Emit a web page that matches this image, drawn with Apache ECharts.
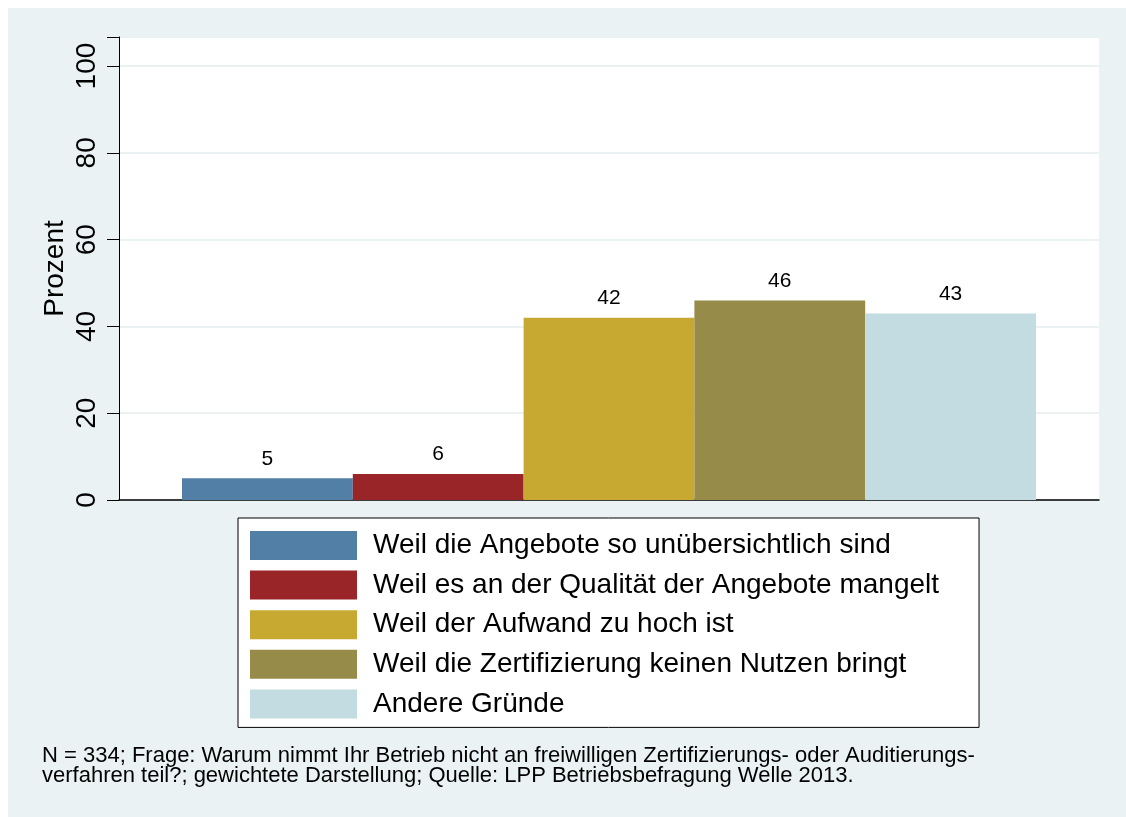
<!DOCTYPE html>
<html>
<head>
<meta charset="utf-8">
<script src="https://cdn.jsdelivr.net/npm/echarts@6/dist/echarts.min.js"></script>
<style>
  html, body { margin: 0; padding: 0; background: #ffffff; }
  #chart { width: 1126px; height: 817px; }
</style>
</head>
<body>
<div id="chart"></div>
<script>
// Gründe für Nichtteilnahme an Zertifizierungsverfahren (Prozent)
const reasons = [
  'Weil die Angebote so unübersichtlich sind',
  'Weil es an der Qualität der Angebote mangelt',
  'Weil der Aufwand zu hoch ist',
  'Weil die Zertifizierung keinen Nutzen bringt',
  'Andere Gründe'
];
const percents = [5, 6, 42, 46, 43];
const barColors = ['#527fa6', '#9a2528', '#c7a831', '#968b48', '#c2dce1'];
const yTicks = [0, 20, 40, 60, 80, 100];
const noteLines = [
  'N = 334; Frage: Warum nimmt Ihr Betrieb nicht an freiwilligen Zertifizierungs- oder Auditierungs-',
  'verfahren teil?; gewichtete Darstellung; Quelle: LPP Betriebsbefragung Welle 2013.'
];

const FONT = '"Liberation Sans", Arial, Helvetica, sans-serif';
const chart = echarts.init(document.getElementById('chart'), null, { renderer: 'canvas' });

const series = reasons.map((name, i) => ({
  name: name,
  type: 'bar',
  data: [percents[i]],
  barWidth: 170.8,
  barGap: '0%',
  itemStyle: { color: barColors[i] },
  label: {
    show: true,
    position: 'top',
    distance: 9,
    color: '#000',
    fontFamily: FONT,
    fontSize: 21
  }
}));

chart.setOption({
  animation: false,
  backgroundColor: '#ffffff',
  textStyle: { fontFamily: FONT },
  graphic: [
    {
      type: 'rect',
      z: -100,
      silent: true,
      shape: { x: 8, y: 8, width: 1118, height: 809 },
      style: { fill: '#eaf2f3' }
    },
    {
      type: 'text',
      left: 42,
      top: 745,
      z: 10,
      style: {
        text: noteLines.join('\n'),
        font: '22px ' + FONT,
        lineHeight: 20,
        fill: '#000'
      }
    }
  ],
  grid: {
    left: 119,
    right: 27,
    top: 37,
    bottom: 317,
    show: true,
    backgroundColor: '#ffffff',
    borderWidth: 0
  },
  legend: {
    orient: 'vertical',
    left: 238,
    top: 518,
    backgroundColor: '#ffffff',
    borderColor: '#000',
    borderWidth: 1,
    borderRadius: 0,
    padding: [13, 40, 9, 12],
    itemWidth: 107,
    itemHeight: 29,
    itemGap: 10.6,
    icon: 'rect',
    textStyle: {
      fontFamily: FONT,
      fontSize: 28,
      color: '#000',
      lineHeight: 29,
      padding: [0, 0, 0, 11]
    },
    data: reasons
  },
  xAxis: {
    type: 'category',
    data: [''],
    axisLine: { show: true, lineStyle: { color: '#000', width: 1.5 } },
    axisTick: { show: false },
    axisLabel: { show: false },
    splitLine: { show: false }
  },
  yAxis: {
    type: 'value',
    min: 0,
    max: 106.7,
    interval: 20,
    name: 'Prozent',
    nameLocation: 'middle',
    nameRotate: 90,
    nameGap: 50,
    nameMoveOverlap: false,
    nameTextStyle: { fontFamily: FONT, fontSize: 28, color: '#000' },
    axisLine: { show: true, lineStyle: { color: '#000', width: 1 } },
    axisTick: { show: true, length: 12, inside: false, lineStyle: { color: '#000' } },
    axisLabel: {
      rotate: 90,
      margin: 18,
      fontFamily: FONT,
      fontSize: 28,
      color: '#000',
      formatter: v => (yTicks.includes(v) ? String(v) : '')
    },
    splitLine: { show: true, lineStyle: { color: '#eaf2f3', width: 2 } }
  },
  series: series
});
</script>
</body>
</html>
